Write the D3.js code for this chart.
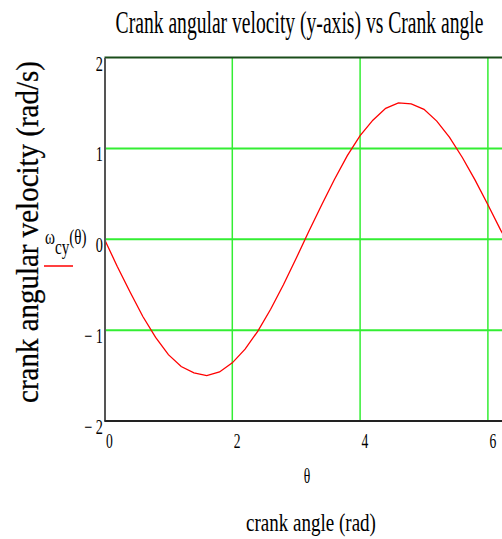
<!DOCTYPE html>
<html>
<head>
<meta charset="utf-8">
<script src="https://cdn.jsdelivr.net/npm/d3@7"></script>
<style>
  body { margin: 0; background: #fff; }
  svg text { font-family: "Liberation Serif", "Times New Roman", serif; fill: #000; }
</style>
</head>
<body>
<div id="chart"></div>
<script>
// crank angle theta (rad), sampled like the Mathcad range variable
const theta = [0, 0.2, 0.4, 0.6, 0.8, 1.0, 1.2, 1.4, 1.6, 1.8, 2.0, 2.2, 2.4, 2.6, 2.8, 3.0,
  3.2, 3.4, 3.6, 3.8, 4.0, 4.2, 4.4, 4.6, 4.8, 5.0, 5.2, 5.4, 5.6, 5.8, 6.0, 6.2, 6.28];
// crank angular velocity, y component (rad/s)
const omegaCy = [0, -0.30, -0.58, -0.85, -1.08, -1.27, -1.40, -1.47, -1.50, -1.46, -1.36, -1.21,
  -1.01, -0.77, -0.50, -0.21, 0.09, 0.38, 0.66, 0.92, 1.14, 1.31, 1.44, 1.50, 1.49, 1.43,
  1.30, 1.12, 0.90, 0.65, 0.38, 0.10, 0.0];
const xTicks = [0, 2, 4, 6];
const yTicks = [-2, -1, 0, 1, 2];

const width = 502, height = 539;
const margin = { top: 57.5, left: 104.5, bottom: 118 };
const boundedHeight = height - margin.top - margin.bottom;
const squeeze = 0.68; // Mathcad text comes out horizontally condensed

const svg = d3.select('#chart').append('svg')
  .attr('width', width)
  .attr('height', height);

const xScale = d3.scaleLinear()
  .domain([0, 2 * Math.PI])
  .range([margin.left, margin.left + 2 * Math.PI * 63.9]);

const yScale = d3.scaleLinear()
  .domain([-2, 2])
  .range([margin.top + boundedHeight, margin.top]);

const minus = v => (v < 0 ? '\u2212 ' + Math.abs(v) : String(v));

// text squeezed to a given width (or by a factor)
function label(parent, str, x, y, size, opts = {}) {
  const t = parent.append('text')
    .attr('text-anchor', opts.anchor || 'middle')
    .style('font-size', size + 'px')
    .text(str);
  let sx = opts.sx || squeeze;
  if (opts.width) sx = opts.width / t.node().getComputedTextLength();
  const rot = opts.rotate ? ` rotate(${opts.rotate})` : '';
  const sy = opts.sy || 1;
  t.attr('transform', `translate(${x},${y})${rot} scale(${sx},${sy})`);
  return t;
}

// Grid lines
const grid = svg.append('g').attr('class', 'grid');
grid.selectAll('line.v')
  .data(xTicks.filter(d => d > 0))
  .enter().append('line')
  .attr('class', 'v')
  .attr('x1', d => xScale(d)).attr('x2', d => xScale(d))
  .attr('y1', yScale(2)).attr('y2', yScale(-2))
  .attr('stroke', '#33ee33').attr('stroke-width', 1.5);

grid.selectAll('line.h')
  .data(yTicks.filter(d => d > -2 && d < 2))
  .enter().append('line')
  .attr('class', 'h')
  .attr('x1', xScale(0)).attr('x2', width)
  .attr('y1', d => yScale(d)).attr('y2', d => yScale(d))
  .attr('stroke', '#33ee33').attr('stroke-width', 2);

// top border
svg.append('line')
  .attr('x1', xScale(0)).attr('x2', width)
  .attr('y1', yScale(2)).attr('y2', yScale(2))
  .attr('stroke', '#1a4d1a').attr('stroke-width', 2);

// Curve
const line = d3.line()
  .x((d, i) => xScale(theta[i]))
  .y(d => yScale(d));

svg.append('path')
  .datum(omegaCy)
  .attr('d', line)
  .attr('fill', 'none')
  .attr('stroke', '#ff0000')
  .attr('stroke-width', 1.3);

// Axes
const yAxis = svg.append('g')
  .attr('transform', `translate(${margin.left},0)`)
  .call(d3.axisLeft(yScale).tickValues(yTicks).tickSize(0).tickFormat(minus));
yAxis.select('.domain').attr('stroke', '#555').attr('stroke-width', 2);
yAxis.selectAll('text')
  .style('font-size', '21px')
  .attr('x', null)
  .attr('dy', '0.6em')
  .attr('transform', `translate(-1.5,0) scale(${squeeze},1)`);

const xAxis = svg.append('g')
  .attr('transform', `translate(0,${yScale(-2)})`)
  .call(d3.axisBottom(xScale).tickValues(xTicks).tickSize(0).tickFormat(d3.format('d')));
xAxis.select('.domain').attr('stroke', '#222').attr('stroke-width', 2).attr('d', `M${margin.left},0H${width}`);
xAxis.selectAll('text')
  .style('font-size', '20px')
  .attr('text-anchor', 'start')
  .attr('y', null)
  .attr('dy', 0)
  .attr('transform', `translate(1,27) scale(${squeeze},1)`);

// Title
label(svg, 'Crank angular velocity (y-axis) vs Crank angle', 299.5, 33, 31, { width: 368 });

// x variable and axis title
label(svg, '\u03b8', 307, 483, 20);
label(svg, 'crank angle (rad)', 311, 531, 26, { width: 130 });

// y axis title
label(svg, 'crank angular velocity (rad/s)', 38, 232, 28, { width: 342, rotate: -90, sy: 1.1 })
  .attr('stroke', '#000')
  .attr('stroke-width', 0.25);

// Legend
const legend = svg.append('text')
  .attr('transform', 'translate(45,244) scale(0.72,1)')
  .style('font-size', '21px');
legend.append('tspan').text('\u03c9');
legend.append('tspan').attr('dy', 10).text('cy');
legend.append('tspan').attr('dy', -10).text('(\u03b8)');

svg.append('line')
  .attr('x1', 44).attr('x2', 73)
  .attr('y1', 266).attr('y2', 266)
  .attr('stroke', '#ff0000').attr('stroke-width', 1.5);
</script>
</body>
</html>
